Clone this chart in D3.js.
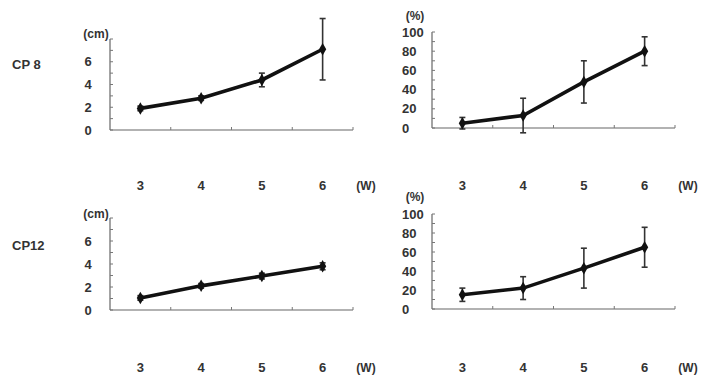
<!DOCTYPE html>
<html>
<head>
  <meta charset="utf-8">
  <script src="https://d3js.org/d3.v7.min.js"></script>
  <style>
    body { margin: 0; background: #fff; }
    svg { display: block; background: #fff; }
    text { font-family: "Liberation Sans", Arial, sans-serif; font-weight: bold; fill: #333; }
  </style>
</head>
<body>
  <svg id="chart" width="702" height="376"></svg>
  <script>
    // data
    var weeks = [3, 4, 5, 6];
    var cmTicks = [0, 2, 4, 6];
    var pctTicks = [0, 20, 40, 60, 80, 100];

    var cp8Length = [1.9, 2.8, 4.4, 7.1];
    var cp8LengthErr = [0.2, 0.2, 0.6, 2.7];
    var cp8Pct = [5, 13, 48, 80];
    var cp8PctErr = [6, 18, 22, 15];

    var cp12Length = [1.05, 2.1, 2.95, 3.8];
    var cp12LengthErr = [0.2, 0.2, 0.25, 0.3];
    var cp12Pct = [15, 22, 43, 65];
    var cp12PctErr = [7, 12, 21, 21];

    var svg = d3.select("#chart");

    function panel(opt) {
      var x = d3.scaleBand().domain(weeks).range([opt.left, opt.right]);
      var y = d3.scaleLinear().domain([0, opt.max]).range([opt.bottom, opt.top]);
      var g = svg.append("g");

      // axes
      g.append("line")
        .attr("x1", opt.left).attr("x2", opt.left)
        .attr("y1", y(opt.max)).attr("y2", y(0))
        .attr("stroke", "#666").attr("stroke-width", 1.2);
      g.append("line")
        .attr("x1", opt.left).attr("x2", opt.right)
        .attr("y1", y(0)).attr("y2", y(0))
        .attr("stroke", "#666").attr("stroke-width", 1.2);

      g.selectAll(".ytick")
        .data(d3.range(0, opt.max + 0.001, opt.minor))
        .enter().append("line")
        .attr("x1", opt.left).attr("x2", opt.left + 3)
        .attr("y1", function (d) { return y(d); })
        .attr("y2", function (d) { return y(d); })
        .attr("stroke", "#777");

      var bounds = weeks.map(function (w) { return x(w); }).concat([opt.right]);
      g.selectAll(".xtick")
        .data(bounds.slice(1))
        .enter().append("line")
        .attr("x1", function (d) { return d; }).attr("x2", function (d) { return d; })
        .attr("y1", y(0)).attr("y2", y(0) - 3)
        .attr("stroke", "#777");

      g.selectAll(".ylab")
        .data(opt.ticks)
        .enter().append("text")
        .attr("x", opt.labelX)
        .attr("y", function (d) { return y(d); })
        .attr("dy", "0.36em")
        .attr("text-anchor", opt.anchor)
        .style("font-size", "13px")
        .text(function (d) { return d; });

      g.append("text")
        .attr("x", opt.unitX).attr("y", opt.unitY)
        .attr("text-anchor", "middle")
        .style("font-size", "12px")
        .text(opt.unit);

      g.selectAll(".xlab")
        .data(weeks)
        .enter().append("text")
        .attr("x", function (d) { return x(d) + x.bandwidth() / 2; })
        .attr("y", opt.xLabelY)
        .attr("text-anchor", "middle")
        .style("font-size", "13px")
        .text(function (d) { return d; });
      g.append("text")
        .attr("x", opt.right + 13).attr("y", opt.xLabelY)
        .attr("text-anchor", "middle")
        .style("font-size", "12px")
        .text("(W)");

      var pts = weeks.map(function (w, i) {
        return { cx: x(w) + x.bandwidth() / 2, v: opt.values[i], e: opt.errors[i] };
      });

      // error bars
      var eb = g.selectAll(".err").data(pts).enter().append("g");
      eb.append("line")
        .attr("x1", function (d) { return d.cx; }).attr("x2", function (d) { return d.cx; })
        .attr("y1", function (d) { return y(d.v - d.e); })
        .attr("y2", function (d) { return y(d.v + d.e); })
        .attr("stroke", "#333").attr("stroke-width", 1.6);
      [-1, 1].forEach(function (s) {
        eb.append("line")
          .attr("x1", function (d) { return d.cx - 3; }).attr("x2", function (d) { return d.cx + 3; })
          .attr("y1", function (d) { return y(d.v + s * d.e); })
          .attr("y2", function (d) { return y(d.v + s * d.e); })
          .attr("stroke", "#333").attr("stroke-width", 1.6);
      });

      var line = d3.line()
        .x(function (d) { return d.cx; })
        .y(function (d) { return y(d.v); });
      g.append("path")
        .datum(pts)
        .attr("d", line)
        .attr("fill", "none")
        .attr("stroke", "#111")
        .attr("stroke-width", 3.6);

      g.selectAll(".pt").data(pts).enter().append("path")
        .attr("d", d3.symbol().type(d3.symbolDiamond).size(45))
        .attr("transform", function (d) { return "translate(" + d.cx + "," + y(d.v) + ")"; })
        .attr("fill", "#111");
    }

    panel({ left: 110, right: 353, top: 39, bottom: 130, max: 8, minor: 1,
      ticks: cmTicks, labelX: 88, anchor: "middle", unit: "(cm)", unitX: 96, unitY: 38,
      xLabelY: 190, values: cp8Length, errors: cp8LengthErr });
    panel({ left: 432, right: 675, top: 32, bottom: 128, max: 100, minor: 10,
      ticks: pctTicks, labelX: 402, anchor: "start", unit: "(%)", unitX: 415, unitY: 20,
      xLabelY: 190, values: cp8Pct, errors: cp8PctErr });
    panel({ left: 110, right: 353, top: 218, bottom: 310, max: 8, minor: 1,
      ticks: cmTicks, labelX: 88, anchor: "middle", unit: "(cm)", unitX: 96, unitY: 218,
      xLabelY: 372, values: cp12Length, errors: cp12LengthErr });
    panel({ left: 432, right: 675, top: 214, bottom: 309, max: 100, minor: 10,
      ticks: pctTicks, labelX: 402, anchor: "start", unit: "(%)", unitX: 415, unitY: 201,
      xLabelY: 372, values: cp12Pct, errors: cp12PctErr });

    svg.append("text").attr("x", 12).attr("y", 69)
      .style("font-size", "13px").text("CP 8");
    svg.append("text").attr("x", 12).attr("y", 250)
      .style("font-size", "13px").text("CP12");
  </script>
</body>
</html>
